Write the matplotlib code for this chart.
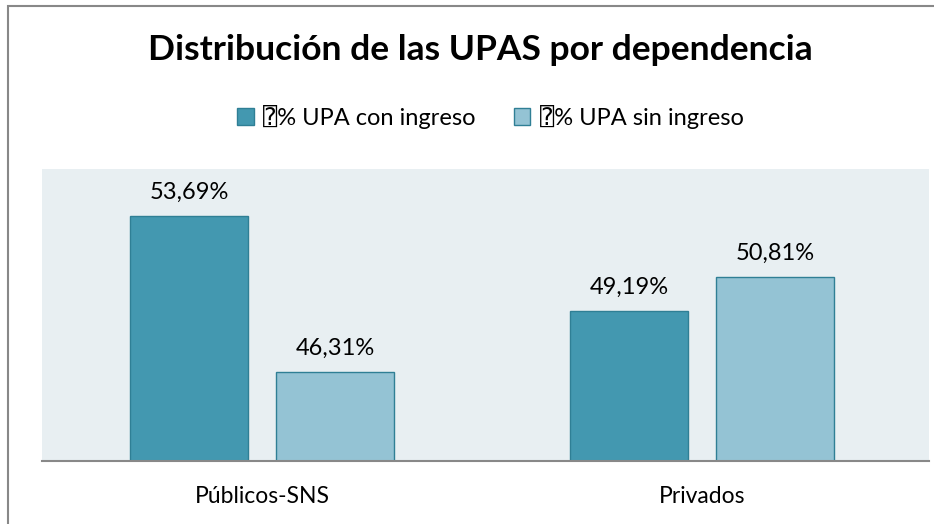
import matplotlib
matplotlib.use("Agg")
import matplotlib.pyplot as plt
import numpy as np
from matplotlib.patches import Rectangle

fams = ['Lato', 'DejaVu Sans', 'DejaVu Sans Mono']
plt.rcParams['font.family'] = fams

categorias = ['Públicos-SNS', 'Privados']
con_ingreso = [53.69, 49.19]
sin_ingreso = [46.31, 50.81]
series = ['⍰% UPA con ingreso', '⍰% UPA sin ingreso']

fig = plt.figure(figsize=(9.34, 5.24), dpi=100)
W, H = 934, 524
ax = fig.add_axes([42 / W, 1 - 461 / H, 887 / W, 292 / H])
ax.set_facecolor('#e8eff2')

x = np.arange(len(categorias))
w = 0.268
off = 0.166
b1 = ax.bar(x - off, con_ingreso, w, color='#4398b0', edgecolor='#2f7f95', linewidth=1, label=series[0])
b2 = ax.bar(x + off, sin_ingreso, w, color='#94c3d4', edgecolor='#2f7f95', linewidth=1, label=series[1])

for bars, vals in [(b1, con_ingreso), (b2, sin_ingreso)]:
    for b, v in zip(bars, vals):
        ax.annotate(f'{v:.2f}%'.replace('.', ','), (b.get_x() + b.get_width() / 2, v),
                    xytext=(0, 9), textcoords='offset points', ha='center', va='bottom',
                    fontsize=17, color='#000000')

ax.set_xlim(-0.5, 1.516)
ax.set_ylim(42.08, 55.9)
ax.set_yticks([])
ax.set_xticks(x)
ax.set_xticklabels(categorias, fontsize=16.5)
ax.tick_params(axis='x', length=0, pad=18)
for s in ['top', 'right', 'left']:
    ax.spines[s].set_visible(False)
ax.spines['bottom'].set_color('#888888')
ax.spines['bottom'].set_linewidth(1.5)

fig.text(480 / W, 1 - 50 / H, 'Distribución de las UPAS por dependencia', ha='center', va='center',
         fontsize=25.5, fontweight='bold')
fig.legend(handles=[b1, b2], labels=series, loc='center', bbox_to_anchor=(0.525, 1 - 117 / H),
           ncol=2, frameon=False, handlelength=0.7, handleheight=0.7,
           handletextpad=0.4, columnspacing=1.6,
           prop={'family': fams, 'size': 17})

fig.patches.append(Rectangle((8 / W, -0.05), 1.1, 1 - 6 / H + 0.05, transform=fig.transFigure,
                             fill=False, edgecolor='#888888', linewidth=1.5))

fig.savefig('out.png', dpi=100)
